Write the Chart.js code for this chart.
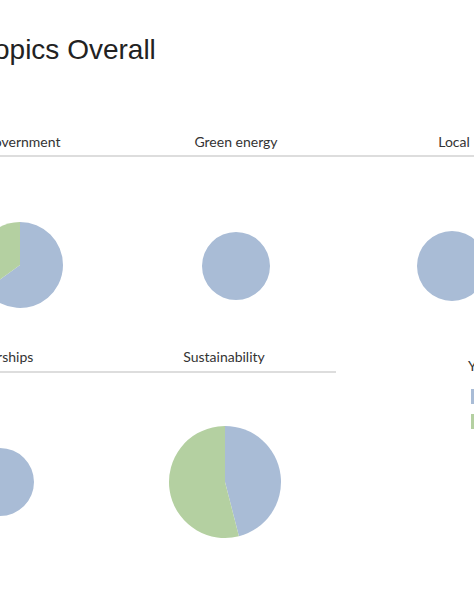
<!DOCTYPE html>
<html><head><meta charset="utf-8">
<script src="https://cdn.jsdelivr.net/npm/chart.js@4"></script>
<style>
body{margin:0;width:474px;height:590px;overflow:hidden;background:#fff;position:relative;font-family:Lato,"Open Sans",sans-serif;}
.t{position:absolute;white-space:nowrap;color:#333;}
.h{font-size:14px;transform:translateX(-50%);}
.line{position:absolute;height:2px;background:#ddd;}
.pie{position:absolute;}
.sw{position:absolute;width:10px;height:15px;}
</style></head><body>
<div class="t" style="left:-20px;top:34px;font-size:28px;color:#222;font-family:'Liberation Sans',Arial,sans-serif;">Topics Overall</div>
<div id="root"></div>
<script>
const topics = ['Government', 'Green energy', 'Local', 'Partnerships', 'Sustainability'];
const seriesA = [65, 100, 100, 100, 46];
const seriesB = [35, 0, 0, 0, 54];
const colors = ['#a9bcd6', '#b4d0a1'];

// layout: [header cx, header y, pie cx, pie cy, radius]
const layout = [
    [22, 133, 20, 265, 42],
    [236, 133, 236, 266, 33],
    [454, 133, 452, 266, 34],
    [-5, 348, 0, 482, 33],
    [224, 348, 225, 482, 55]
];

const root = document.getElementById('root');
root.insertAdjacentHTML('beforeend',
    '<div class="line" style="left:0;top:155px;width:474px"></div>' +
    '<div class="line" style="left:0;top:371px;width:336px"></div>' +
    '<div class="t" style="left:468px;top:357px;font-size:14px">Year</div>' +
    '<div class="sw" style="left:471px;top:389px;background:' + colors[0] + '"></div>' +
    '<div class="sw" style="left:471px;top:414px;background:' + colors[1] + '"></div>');

topics.forEach((name, i) => {
    const [hx, hy, cx, cy, r] = layout[i];
    root.insertAdjacentHTML('beforeend', `<div class="t h" style="left:${hx}px;top:${hy}px">${name}</div>`);
    const box = document.createElement('div');
    box.className = 'pie';
    const s = r * 2 + 4;
    box.style.cssText = `left:${cx - s / 2}px;top:${cy - s / 2}px;width:${s}px;height:${s}px`;
    const cv = document.createElement('canvas');
    box.appendChild(cv);
    root.appendChild(box);
    new Chart(cv, {
        type: 'pie',
        data: {
            labels: ['A', 'B'],
            datasets: [{ data: [seriesA[i], seriesB[i]], backgroundColor: colors, borderWidth: 0 }]
        },
        options: {
            responsive: true, maintainAspectRatio: false, animation: false,
            layout: { padding: 1 },
            plugins: { legend: { display: false }, tooltip: { enabled: false } }
        }
    });
});
</script>
</body></html>
